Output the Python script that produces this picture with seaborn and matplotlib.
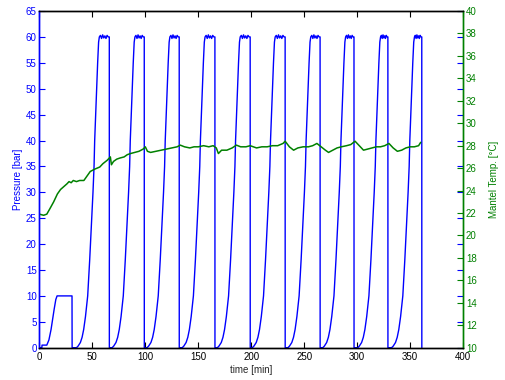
import numpy as np
import pandas as pd
import seaborn as sns
import matplotlib
matplotlib.use("Agg")
import matplotlib.pyplot as plt

# --- pressure trace ---
# first low-pressure step
pre_time = [0, 2.3, 2.5, 7, 9, 11, 12.5, 14, 15.5, 16.7, 30.8, 30.9, 35]
pre_pres = [0, 0, 0.5, 0.5, 1.5, 3.5, 5.5, 7.5, 9.3, 10, 10, 0, 0]

# pressure cycles: ramp start and drop times [min]
cycle_start = [35, 68.6, 101.6, 134.8, 168, 201, 234.6, 267.5, 300.5, 332.5]
cycle_drop = [66, 99, 132, 165.7, 199, 232, 265, 297, 329, 361]

# ramp shape measured on the first cycle (offset [min], pressure [bar])
ramp_offset = [0, 1.5, 3.7, 5.3, 6.8, 8.5, 10.6, 12.5, 14.4, 15.6, 16.6, 17.2, 18.1, 19.0, 20.0, 20.9, 21.6]
ramp_pres = [0, 0.3, 1.0, 2.0, 3.5, 6.0, 10, 17, 25, 30, 35, 40, 45, 50, 55, 59, 60]

# plateau wobble around 60 bar
plateau_pres = [60.3, 59.7, 60.4, 59.8, 60.2, 59.7, 60.3, 60.0]

# --- mantel temperature [°C] ---
temp_time = [0, 4, 7, 10, 13.5, 17, 20, 23, 26, 28, 30, 32, 35, 38, 42, 45, 48, 52, 57, 60,
             64, 67, 68, 70, 73, 76, 80, 83, 86, 90, 94, 98, 100, 102, 105, 110, 115, 120, 125, 130,
             133, 137, 142, 146, 150, 155, 160, 164, 167, 169, 172, 177, 182, 186, 190, 195, 199, 205, 210, 215,
             220, 225, 230, 232, 236, 240, 244, 249, 254, 258, 262, 266, 270, 273, 277, 281, 285, 290, 294, 298,
             302, 306, 310, 314, 318, 322, 326, 330, 334, 338, 342, 346, 350, 354, 358, 360]
temp_vals = [21.9, 21.8, 21.9, 22.4, 23.0, 23.7, 24.1, 24.35, 24.6, 24.8, 24.7, 24.9, 24.8, 24.9, 24.9, 25.3, 25.7, 25.9, 26.1, 26.4,
             26.7, 27.0, 26.3, 26.6, 26.8, 26.9, 27.0, 27.2, 27.3, 27.4, 27.5, 27.7, 27.9, 27.5, 27.4, 27.5, 27.6, 27.7, 27.8, 27.9,
             28.05, 27.9, 27.8, 27.9, 27.9, 28.0, 27.9, 28.0, 27.8, 27.3, 27.6, 27.6, 27.8, 28.05, 27.9, 27.9, 28.0, 27.8, 27.9, 27.9,
             28.0, 28.0, 28.2, 28.4, 27.9, 27.6, 27.8, 27.9, 27.9, 28.0, 28.2, 27.9, 27.6, 27.4, 27.6, 27.8, 27.9, 28.0, 28.1, 28.4,
             28.0, 27.6, 27.7, 27.8, 27.9, 27.9, 28.0, 28.2, 27.8, 27.5, 27.6, 27.8, 27.9, 27.9, 28.0, 28.3]

# assemble the pressure trace from the pieces above
t_all = list(pre_time)
p_all = list(pre_pres)
for start, drop in zip(cycle_start, cycle_drop):
    t_all += [start + o for o in ramp_offset]
    p_all += ramp_pres
    top_start = start + ramp_offset[-1]
    n = len(plateau_pres)
    t_all += list(np.linspace(top_start, drop, n + 2)[1:-1])
    p_all += plateau_pres
    t_all += [drop, drop + 0.05]
    p_all += [60, 0]

pres_df = pd.DataFrame({"time": t_all, "pressure": p_all})
temp_df = pd.DataFrame({"time": temp_time, "temp": temp_vals})

blue = "#0000ff"
green = "#008000"

sns.set_style("white")
plt.rcParams["font.family"] = ["Liberation Sans", "DejaVu Sans"]
plt.rcParams["font.size"] = 7

fig = plt.figure(figsize=(5.05, 3.8), dpi=100)
ax = fig.add_axes([0.078, 0.085, 0.839, 0.886])
ax2 = ax.twinx()

sns.lineplot(data=pres_df, x="time", y="pressure", sort=False, estimator=None,
             color=blue, lw=1.0, ax=ax)
sns.lineplot(data=temp_df, x="time", y="temp", sort=False, estimator=None,
             color=green, lw=1.1, ax=ax2)

ax.set_xlim(0, 400)
ax.set_ylim(0, 65)
ax2.set_ylim(10, 40)
ax.set_xticks(range(0, 401, 50))
ax.set_yticks(range(0, 66, 5))
ax2.set_yticks(range(10, 41, 2))

ax.set_xlabel("time [min]", fontsize=7, labelpad=2)
ax.set_ylabel("Pressure [bar]", color=blue, fontsize=7, labelpad=2)
ax2.set_ylabel("Mantel Temp. [°C]", color=green, fontsize=7, labelpad=9)

ax.tick_params(axis="x", direction="in", length=4, top=True, bottom=True,
               labelsize=7, colors="black", pad=3)
ax.tick_params(axis="y", direction="in", length=4, left=True, right=True,
               labelsize=7, colors=blue, pad=2)
ax2.tick_params(axis="y", direction="in", length=4, right=True,
                labelsize=7, colors=green, pad=2)

for a in (ax, ax2):
    a.spines["top"].set_color("black")
    a.spines["bottom"].set_color("black")
    a.spines["left"].set_color(blue)
    a.spines["right"].set_color(green)
    for s in a.spines.values():
        s.set_linewidth(1.0)
ax.grid(False)
ax2.grid(False)

fig.savefig("out.png", dpi=100)
